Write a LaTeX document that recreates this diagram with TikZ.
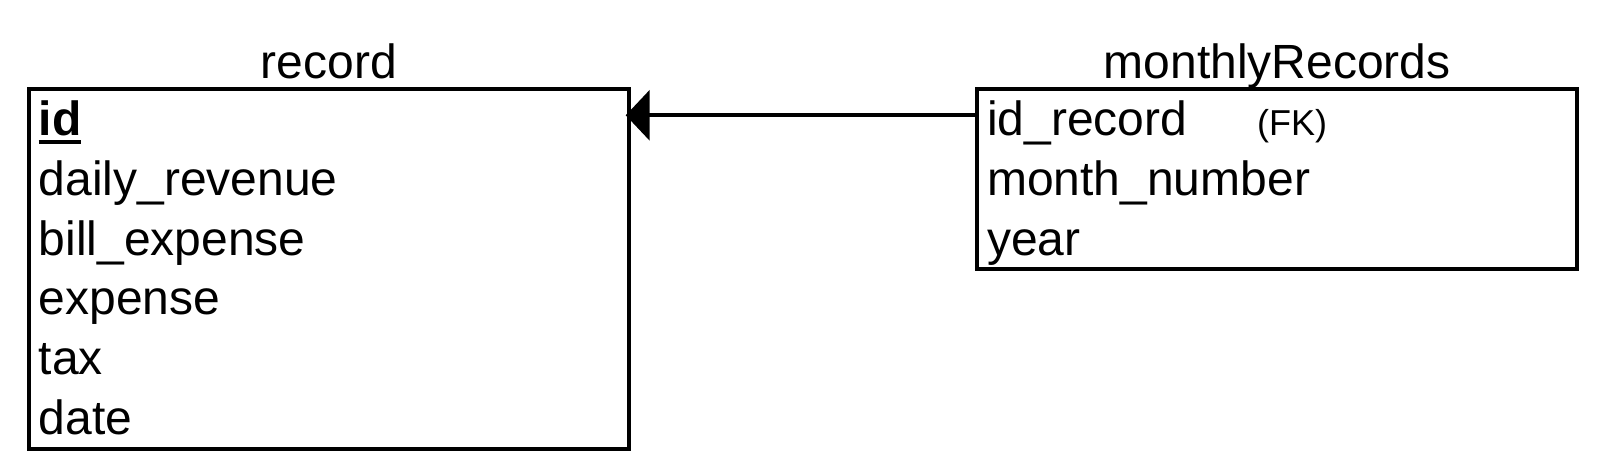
\documentclass[tikz,border=0pt]{standalone}
\usepackage{fontspec}
\setmainfont{Liberation Sans}
\usetikzlibrary{arrows.meta}
\newcommand\pkul[1]{\setbox0\hbox{#1}\rlap{\rule[-8.3pt]{\wd0}{4pt}}\box0}
\begin{document}
\begin{tikzpicture}[x=1pt,y=-1pt,
  entity/.style={draw,line width=4pt,inner sep=0pt,outer sep=0pt,anchor=north west,minimum width=600pt},
  field/.style={anchor=base west,inner sep=0pt,font=\fontsize{48}{58}\selectfont},
  etitle/.style={anchor=base,inner sep=0pt,font=\fontsize{48}{58}\selectfont},
  fk/.style={anchor=base west,inner sep=0pt,font=\fontsize{36}{43}\selectfont},
  rel/.style={line width=4pt,-{Triangle[length=24pt,width=50pt]}}]
\useasboundingbox (0,0) rectangle (1604,476);
% entities
\node[entity,minimum height=359.5pt] (rec) at (28.7,89.3) {};
\node[entity,minimum height=180pt] (mon) at (977.2,89.3) {};
% titles
\node[etitle] (rect) at ([yshift=11pt]rec.north) {record};
\node[etitle] (mont) at ([yshift=11pt]mon.north) {monthlyRecords};
% record fields
\node[field] (r1) at (38.5,135.5) {\pkul{\textbf{id}}};
\node[field] (r2) at (38.5,195.3) {daily\_revenue};
\node[field] (r3) at (38.5,255.1) {bill\_expense};
\node[field] (r4) at (38.5,314.9) {expense};
\node[field] (r5) at (38.5,374.7) {tax};
\node[field] (r6) at (38.5,434.5) {date};
% monthlyRecords fields
\node[field] (m1) at (987,135.5) {id\_record};
\node[fk] (m1fk) at (1257,135.5) {(FK)};
\node[field] (m2) at (987,195.3) {month\_number};
\node[field] (m3) at (987,255.1) {year};
% relation
\draw[rel] ([yshift=-26pt]mon.north west) -- ([xshift=-3pt,yshift=-26pt]rec.north east);
\end{tikzpicture}
\end{document}
